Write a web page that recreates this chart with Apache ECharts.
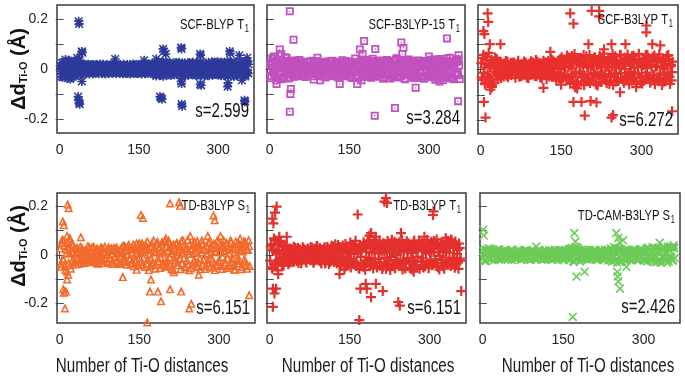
<!DOCTYPE html>
<html><head><meta charset="utf-8">
<script src="https://cdn.jsdelivr.net/npm/echarts@6/dist/echarts.min.js"></script>
<style>html,body{margin:0;padding:0;background:#fff}#c{width:685px;height:381px}</style>
</head><body><div id="c"></div>
<script>
// Ti-O distance index: first band array holds odd indices (1 + 2i), second band array even indices (2 + 2i)
const xTicks = [0, 75, 150, 225, 300];
const xTickLabels = [0, 150, 300];
const yTicks = [-0.2, -0.1, 0, 0.1, 0.2];
const yTickLabels = [-0.2, 0, 0.2];

const titles = ['SCF-BLYP T|1', 'SCF-B3LYP-15 T|1', 'SCF-B3LYP T|1', 'TD-B3LYP S|1', 'TD-B3LYP T|1', 'TD-CAM-B3LYP S|1'];
const sValues = ['s=2.599', 's=3.284', 's=6.272', 's=6.151', 's=6.151', 's=2.426'];
const xTitle = 'Number of Ti-O distances';

// --- SCF-BLYP T1 ---
const bandBLYP = [
.012,-.031,.004,.027,-.015,.038,-.006,-.024,.019,.033,
-.035,.008,-.018,.026,.001,-.029,.014,.036,-.011,.022,
-.004,.017,-.021,.009,.013,-.016,-.002,.019,-.012,.006,
.015,-.019,.003,-.008,.018,.011,-.014,-.005,.02,-.017,
.007,.014,-.01,-.02,.016,.002,-.013,.009,.018,-.006,
-.016,.012,.005,-.019,.015,-.009,.001,.017,-.014,.008,
.019,-.003,-.018,.011,.006,-.012,.016,-.015,.004,.02,
-.008,.013,-.017,.002,.018,-.011,.009,-.02,.014,-.004,
.016,.007,-.015,.019,-.009,.003,-.018,.012,.017,-.013,
.024,-.028,.006,.03,-.012,.019,-.025,.002,.027,-.02,
.011,-.016,.023,-.007,.018,-.026,.009,.021,-.014,-.003,
.025,-.019,.013,-.024,.004,.02,-.011,.017,-.027,.008,
-.015,.026,.001,-.021,.016,-.008,.023,-.018,.011,.005,
-.025,.019,-.004,.028,-.016,.009,-.022,.014,.024,-.011,
.003,-.027,.018,-.013,.025,.007,-.02,.016,-.006,.029,
-.023,.012,-.017,.027,.004,-.026,.021,-.01,.015,-.029,
.026,-.008,.019,-.024,.011,.03,-.016,.002,-.028,.022,
-.013,.027,.006,-.021,.017,-.03,.013,.025,-.018];
const bandBLYP2 = [
-.009,.024,-.033,.015,.029,-.02,.006,-.037,.021,-.013,
.031,-.004,.017,-.027,.01,.025,-.016,-.001,.034,-.022,
.008,-.014,.02,-.006,-.018,.012,.003,-.02,.016,-.011,
-.003,.018,-.015,.01,-.007,.014,-.019,.005,.012,-.013,
.019,-.004,-.016,.008,.013,-.018,.011,-.002,-.012,.017,
.004,-.014,.019,-.007,-.011,.016,-.017,.01,.002,-.019,
.013,-.009,.006,.018,-.016,.003,-.02,.014,-.006,.011,
.017,-.014,.001,-.018,.012,.007,-.013,.019,-.002,.015,
-.019,.009,.014,-.006,.02,-.017,.005,-.011,.018,.001,
-.022,.015,-.009,.026,-.018,.004,.022,-.029,.013,-.006,
.028,-.012,.002,-.023,.016,.009,-.019,.025,-.008,.014,
-.021,.006,.027,-.015,.011,-.028,.019,-.003,.023,-.017,
.009,-.024,.018,.003,-.019,.027,-.012,.015,-.026,.021,
.012,-.009,.026,-.02,.006,.022,-.029,.017,-.005,-.018,
.024,-.014,.01,.029,-.024,.015,-.003,-.022,.027,-.011,
.018,.006,-.027,.013,.023,-.015,.008,-.021,.03,.001,
-.019,.024,-.011,.016,-.03,.02,.007,-.025,.014,-.006,
.029,-.017,.022,-.009,.012,-.026,.028,-.014,.019];
const outBLYP = [[36,.19],[37,.18],[35,-.11],[36,-.125],[37,-.135],[38,-.14],[42,.07],[43,.065],[42,-.05],[20,-.04],[33,.045],[105,.04],[160,.035],[183,.04],[190,-.11],[192,-.115],[194,-.12],[196,.08],[197,.07],[201,.06],[230,.085],[231,.08],[230,-.05],[231,-.058],[231,-.14],[232,-.148],[266,.06],[267,.055],[266,-.06],[268,-.065],[318,-.07],[319,-.055],[322,.07],[323,.062],[340,.055],[350,-.125],[351,-.13],[345,-.045],[355,.045]];

// --- SCF-B3LYP-15 T1 ---
const bandB3LYP15 = [
.018,-.036,.043,.005,-.027,.031,-.045,.012,.038,-.019,
-.041,.024,.002,-.033,.047,-.011,.029,-.038,.015,-.004,
.026,-.022,.009,.034,-.017,-.029,.013,.021,-.008,.031,
-.025,.006,.019,-.032,.011,-.014,.027,-.003,-.021,.016,
.033,-.042,.004,.023,-.018,.012,-.028,.02,.001,-.024,
.029,-.011,-.034,.017,.008,-.02,.031,-.015,.022,-.006,
-.027,.014,.003,-.031,.025,-.012,.019,-.023,.035,-.009,
.01,-.029,.024,.005,-.018,.03,-.033,.013,-.002,.021,
.042,-.026,.011,-.037,.028,.004,-.045,.034,-.016,.023,
-.031,.009,.026,-.019,.014,-.035,.002,.032,-.024,.017,
-.008,.029,-.027,.012,.022,-.014,-.033,.019,.006,-.021,
.036,-.004,.027,-.038,.015,.009,-.025,.031,-.012,.043,
-.034,.018,.001,-.029,.037,-.016,.024,-.041,.011,.028,
-.022,.007,.033,-.018,.013,-.036,.026,.004,-.027,.019,
.034,-.011,-.03,.022,.009,-.039,.029,-.015,.017,-.005,
.031,-.026,.014,-.033,.038,.002,-.021,.027,-.037,.012,
.04,-.018,.025,-.044,.006,.033,-.028,.019,-.012,.045,
-.035,.021,.009,-.041,.03,-.016,.037,-.024,.014];
const bandB3LYP15_2 = [
-.028,.013,-.006,.041,-.022,.009,.035,-.031,.004,.026,
.017,-.039,.032,.008,-.015,.044,-.026,.003,-.035,.021,
-.013,.029,-.031,.007,.022,-.009,-.024,.036,.012,-.018,
.023,-.028,.015,.001,-.012,.027,-.019,.031,-.006,.014,
-.029,.011,.025,-.015,.032,-.023,.006,-.011,.028,-.017,
.009,.024,-.021,.013,-.029,.017,.004,-.026,.033,-.013,
.021,-.018,.029,.006,-.034,.011,-.005,.027,-.015,.018,
-.024,.031,-.009,.019,-.027,.002,.023,-.036,.015,-.011,
.027,.003,-.032,.019,-.008,.038,-.021,.012,-.029,.036,
.016,-.024,.034,-.006,.021,-.029,.041,-.013,.008,-.031,
.025,-.017,.006,.034,-.025,.018,-.039,.011,.029,-.004,
-.018,.033,-.027,.021,.004,-.032,.016,-.021,.037,-.009,
.021,-.026,.035,.012,-.017,.029,-.038,.008,.019,-.013,
.038,-.023,-.009,.028,-.031,.016,.005,-.024,.033,-.035,
-.017,.025,.011,-.036,.019,.032,-.007,.023,-.028,.014,
-.021,.037,-.031,.009,.024,-.043,.016,-.008,.035,-.019,
-.026,.031,-.011,.022,-.035,.014,.042,-.02,.029,-.033,
.018,-.038,.026,.012,-.022,.039,-.014,.031,-.04];
const outB3LYP15 = [[38,.23],[45,.117],[38,-.17],[39,-.10],[40,-.08],[13,-.06],[19,.078],[22,.06],[8,.05],[95,-.045],[90,.045],[132,-.06],[170,.078],[178,.112],[175,.06],[165,-.06],[199,.08],[198,-.186],[236,-.155],[248,.106],[252,.085],[250,.06],[275,-.075],[334,.122],[355,-.128],[356,.055],[300,.05],[320,-.05]];

// --- SCF-B3LYP T1 ---
const bandB3LYP = [
.025,-.041,.058,.008,-.054,.037,-.019,.066,-.035,.012,
-.062,.029,-.008,.047,-.026,.018,-.039,.004,.031,-.015,
.022,-.028,.009,.034,-.012,-.031,.017,.002,-.022,.027,
-.006,.019,-.033,.013,.025,-.017,.004,-.027,.021,-.01,
.032,-.02,.007,.015,-.035,.024,-.003,-.016,.028,.011,
-.026,.038,-.012,.003,.021,-.031,.016,-.007,.035,-.022,
.009,-.038,.027,.014,-.018,.042,-.029,.005,.031,-.011,
-.044,.019,.036,-.024,.002,.048,-.034,.013,-.021,.027,
.055,-.039,.011,-.056,.033,.004,-.047,.061,-.016,.024,
-.051,.038,-.008,.045,-.03,.018,-.062,.029,.052,-.019,
-.037,.057,.006,-.043,.026,-.013,.048,-.058,.015,.034,
-.025,.041,-.049,.009,.063,-.032,.021,-.054,.037,-.004,
.046,-.028,.013,-.061,.031,.052,-.017,.024,-.045,.007,
.058,-.036,.019,-.052,.002,.043,-.027,.035,-.059,.015,
-.041,.027,.054,-.012,.038,-.048,.009,.062,-.031,.022,
-.055,.016,.044,-.026,.005,.057,-.038,.028,-.046,.011,
.049,-.021,-.058,.034,.013,-.042,.06,-.015,.027,-.051,
.036,.003,-.033,.053,-.024,.041,-.057,.018,-.01];
const bandB3LYP_2 = [
-.032,.046,-.012,-.058,.021,.049,-.028,.016,-.044,.038,
.019,-.052,.034,-.011,.042,-.022,.009,.027,-.034,.013,
-.017,.024,-.008,-.025,.031,.006,-.019,.026,-.011,.016,
.028,-.022,.009,-.014,.035,-.029,.018,.002,-.024,.021,
-.011,.027,-.032,.019,.003,-.021,.033,-.009,-.018,.024,
.014,-.027,.031,-.016,.007,.026,-.035,.012,-.004,.029,
-.021,.016,.034,-.028,.011,-.009,.037,-.023,.019,-.031,
.026,.007,-.036,.041,-.016,.022,-.028,.033,.009,-.043,
-.021,.047,-.034,.016,.053,-.027,.038,-.011,-.055,.031,
.044,-.016,.026,-.047,.012,.057,-.024,.035,-.041,.008,
.029,-.053,.041,.015,-.032,.046,-.021,.031,-.063,.019,
.054,-.011,-.036,.028,.049,-.018,-.044,.012,.034,-.057,
-.022,.039,.061,-.029,.007,-.048,.035,-.037,.021,.056,
-.014,.028,-.043,.046,.016,-.031,.059,-.021,.033,-.008,
.052,-.034,.006,.041,-.057,.024,-.019,.037,-.049,.014,
.033,-.045,.021,.058,-.012,-.032,.044,-.052,.017,.036,
-.026,.055,.011,-.038,.029,.045,-.023,.033,-.061,.008,
-.047,.022,.039,-.016,.057,-.029,.012,-.043,.031];
const outB3LYP = [[13,.222],[14,.188],[5,.152],[7,.14],[6,-.128],[9,-.19],[18,-.08],[21,-.07],[17,.1],[37,.1],[117,-.073],[167,.222],[173,.181],[173,-.128],[176,-.07],[180,-.075],[194,-.182],[188,-.128],[201,.1],[205,-.125],[207,.232],[221,.232],[221,.21],[216,-.13],[244,-.19],[247,-.18],[244,.1],[309,.174],[309,.147],[270,.1],[320,.1],[335,.095],[357,-.165],[130,.07],[150,-.06],[230,.08],[260,-.09],[290,-.07]];

// --- TD-B3LYP S1 ---
const bandTDS1 = [
.028,-.047,.065,-.018,.041,-.061,.009,.053,-.032,.072,
-.055,.016,.044,-.027,.003,-.038,.031,.012,-.021,.036,
-.009,.025,-.033,.018,.006,-.026,.038,-.014,.021,-.004,
.033,-.019,.011,-.029,.027,.002,-.035,.016,-.008,.031,
-.023,.014,.036,-.011,.004,-.031,.024,-.017,.029,.007,
-.028,.019,-.003,.034,-.021,.012,-.036,.026,.008,-.015,
.041,-.024,.017,-.039,.005,.033,-.012,.028,-.031,.045,
-.019,.011,.049,-.034,.023,-.006,.038,-.042,.014,.031,
-.048,.026,.057,-.018,.004,-.044,.035,-.029,.062,.012,
-.038,.046,-.013,.028,-.052,.019,.055,-.034,.007,-.047,
.039,-.022,.061,-.009,.031,-.056,.017,.044,-.028,.003,
.052,-.041,.024,-.015,.058,-.033,.011,.036,-.05,.027,
.064,-.038,.006,-.054,.029,.045,-.021,.015,-.043,.059,
-.027,.034,-.058,.012,.048,-.017,.025,-.046,.037,.004,
-.035,.056,-.011,.029,-.051,.042,.018,-.039,.061,-.024,
.013,-.045,.038,-.006,.063,-.029,.021,-.052,.034,.009,
-.042,.054,-.016,.027,-.059,.036,.005,-.033,.051,-.021,
.044,-.048,.016,.058,-.027,.031,-.055,.022,.039];
const bandTDS1_2 = [
-.036,.051,-.014,.062,-.043,.024,-.068,.035,.008,-.041,
.047,-.022,.013,.033,-.029,.007,.024,-.035,.016,-.011,
.029,-.016,.004,-.031,.022,.011,-.024,.034,-.019,.013,
-.027,.036,-.008,.019,-.033,.025,.009,-.021,.031,-.014,
.026,-.032,.014,.002,-.025,.034,-.011,.021,-.036,.017,
.031,-.007,-.027,.023,.011,-.033,.019,-.004,.037,-.026,
-.013,.035,-.028,.022,.044,-.016,-.037,.009,.026,-.045,
.036,-.023,.008,-.04,.032,.015,-.029,.041,-.011,.024,
.044,-.033,.021,-.061,.039,-.012,.051,-.038,.027,-.055,
.018,.056,-.024,.035,-.008,.047,-.041,.013,.059,-.026,
-.044,.021,.053,-.036,.009,.041,-.061,.026,-.018,.047,
-.03,.013,.038,-.057,.022,.063,-.012,-.046,.031,-.021,
.017,-.062,.047,.021,-.035,.009,.056,-.028,.038,-.048,
.044,-.014,.022,.061,-.039,.027,-.056,.008,-.029,.052,
.025,-.047,.034,-.018,.049,-.061,.013,.036,-.042,.055,
-.024,.031,-.056,.044,.016,-.037,.052,-.012,-.046,.028,
.061,-.029,.035,-.043,.012,.057,-.021,.046,-.034,.019,
-.057,.026,.041,-.015,.053,-.038,.024,.063,-.044];
const outTDS1 = [[15,.21],[17,.195],[6,.14],[8,.125],[8,-.155],[7,-.14],[10,-.22],[12,-.15],[14,-.1],[16,-.08],[14,.08],[40,.075],[119,-.09],[145,-.06],[150,.05],[155,.05],[153,.167],[157,.155],[165,-.278],[170,-.15],[172,-.1],[185,-.15],[191,-.19],[200,.07],[208,-.14],[215,-.07],[229,-.15],[208,.215],[225,.22],[227,.205],[244,-.22],[248,-.2],[246,.08],[279,.08],[290,.165],[292,.145],[303,.08],[306,.04],[357,-.165],[262,-.08],[330,-.06],[340,.07]];

// --- TD-B3LYP T1 ---
const bandTDT1 = [
-.024,.043,-.058,.017,.061,-.036,.005,-.064,.039,-.012,
.052,-.043,.021,-.006,.035,-.028,.013,-.039,.026,-.003,
.019,-.031,.034,-.014,.008,-.025,.028,-.009,.022,-.035,
.011,.027,-.018,.003,-.032,.024,-.011,.018,.033,-.021,
.006,-.028,.025,-.016,.037,.009,-.024,.014,-.036,.021,
-.005,.031,-.027,.012,.026,-.038,.017,.002,-.022,.035,
-.031,.044,.008,-.019,.028,-.041,.015,-.026,.039,-.007,
.024,-.047,.033,.011,-.029,.051,-.018,.026,-.039,.004,
.058,-.033,.017,-.055,.041,-.008,.029,-.049,.036,-.062,
.013,.047,-.024,.055,-.041,.009,-.031,.062,-.017,.038,
-.052,.024,.006,-.044,.033,-.059,.048,-.013,.021,-.036,
.057,-.027,.041,-.009,.063,-.046,.015,-.055,.029,.002,
-.039,.052,-.021,.034,-.061,.011,.044,-.032,.056,-.016,
.027,-.053,.008,.042,-.025,.059,-.043,.019,-.007,.037,
-.058,.031,.049,-.014,.024,-.047,.006,.061,-.036,.017,
-.028,.054,-.041,.012,.038,-.022,.064,-.051,.026,-.004,
.045,-.034,.018,-.057,.033,-.012,.052,-.038,.009,-.046,
.058,-.019,.029,-.053,.041,.003,-.031,.047,-.024];
const bandTDT1_2 = [
.035,-.052,.022,.068,-.041,.011,-.033,.049,-.021,.058,
-.027,.014,-.045,.032,-.009,.038,-.021,.011,-.032,.024,
-.012,.017,-.028,.029,-.005,.022,-.034,.013,.006,-.023,
.031,-.014,.021,-.029,.009,.026,-.004,-.022,.017,.029,
-.033,.012,-.021,.035,-.011,.019,.028,-.031,.006,-.017,
.024,-.036,.011,.033,-.014,.021,-.029,.038,-.009,.014,
.027,-.022,-.035,.041,-.012,.033,-.046,.019,.008,-.037,
.045,-.015,.026,-.038,.012,-.052,.031,.019,-.027,.043,
-.046,.027,.009,-.058,.037,.016,-.041,.052,-.024,.031,
-.034,.059,-.012,-.047,.026,.044,-.056,.018,-.029,.048,
.036,-.017,.059,-.031,.013,-.049,.027,.045,-.058,.009,
-.042,.024,-.063,.033,.011,-.038,.054,-.022,.047,-.031,
.016,-.045,.038,.061,-.027,.019,-.056,.034,-.012,.048,
-.036,.023,-.061,.015,.051,-.029,.033,-.048,.026,.059,
.043,-.025,.014,-.052,.036,.019,-.039,.027,-.055,.046,
.009,-.043,.032,.057,-.019,.041,-.034,.011,-.061,.036,
-.022,.051,-.047,.026,.015,-.039,.058,-.027,.033,.064,
-.041,.036,-.012,.055,-.034,.021,-.058,.028,-.015];
const outTDT1 = [[13,.2],[5,.15],[7,.13],[10,.175],[6,-.14],[12,-.14],[6,-.215],[9,-.16],[16,-.08],[18,.075],[32,.075],[131,-.08],[140,-.06],[165,.167],[168,-.27],[170,-.14],[182,-.14],[180,-.12],[190,-.175],[199,-.12],[199,.075],[212,-.15],[215,.22],[220,.215],[218,.235],[190,.09],[187,.08],[241,-.195],[244,-.21],[246,.09],[306,.165],[307,.18],[290,.075],[359,-.15],[330,.07],[270,-.07]];

// --- TD-CAM-B3LYP S1 ---
const bandCAM = [
.016,-.024,.009,.021,-.013,.027,-.004,-.019,.015,.002,
-.022,.011,.018,-.008,-.015,.023,.005,-.017,.012,-.003,
.019,-.011,.007,-.02,.014,.001,-.016,.021,-.006,.01,
-.018,.013,.003,-.012,.017,-.021,.008,.015,-.009,-.002,
.02,-.014,.011,-.019,.004,.016,-.007,.012,-.017,.009,
-.001,.018,-.013,.006,-.02,.014,.003,-.011,.019,-.016,
.008,-.005,.015,-.018,.012,.002,-.014,.021,-.009,.006,
-.019,.013,.004,-.012,.017,-.022,.01,.016,-.006,-.015,
.024,-.018,.011,.028,-.025,.006,-.021,.031,-.013,.019,
-.027,.009,.022,-.016,.003,-.012,.018,-.02,.014,.005,
-.017,.011,-.004,.02,-.013,.016,-.008,-.019,.012,.002,
.021,-.015,.007,-.022,.017,.004,-.011,.019,-.018,.026,
-.029,.014,.031,-.023,.008,-.032,.027,-.012,.021,-.026,
.005,.018,-.014,.011,-.02,.016,.001,-.017,.013,-.007,
.022,-.012,.009,-.021,.015,.004,-.018,.024,-.01,.013,
-.023,.019,.006,-.027,.029,-.015,.011,-.024,.032,-.009,
.025,-.031,.014,.028,-.02,.007,-.033,.026,-.017,.03,
-.025,.012,.034,-.028,.019,-.008,.031,-.022,.027];
const bandCAM_2 = [
-.013,.021,-.026,.006,.018,-.009,.024,-.016,.003,.019,
.012,-.017,.004,.022,-.02,-.006,.015,-.012,.009,.017,
-.008,.013,-.017,.011,-.004,.019,-.021,.008,.014,-.013,
.006,-.016,.02,-.005,.012,-.018,.01,-.014,.018,.004,
-.011,.016,-.005,.013,-.021,.009,.017,-.015,.002,-.019,
.014,-.008,.02,.011,-.014,.005,-.019,.016,-.007,.012,
-.017,.019,-.004,.009,-.021,.015,.006,-.013,.017,-.011,
.021,-.004,.013,-.019,.008,.014,-.016,.003,.019,-.012,
-.021,.026,-.008,.015,-.03,.022,.01,-.017,.027,-.011,
.016,-.021,.006,.013,-.018,.02,-.009,.004,-.016,.021,
.009,-.014,.017,-.006,.019,-.021,.012,.003,-.015,.016,
-.01,.013,-.018,.021,-.005,.011,-.023,.016,.008,-.019,
.022,-.011,-.024,.029,-.016,.019,.011,-.03,.024,.006,
-.018,.013,.021,-.009,.006,-.015,.019,-.023,.004,.017,
-.013,.02,-.016,.007,-.022,.018,.012,-.008,.021,-.017,
.009,-.021,.028,-.012,-.006,.023,-.019,.014,-.03,.021,
-.014,.024,-.028,.017,.005,-.022,.019,-.011,.035,-.02,
.016,-.033,.022,-.009,.029,-.015,-.024,.032,-.013];
const outCAM = [[1,.104],[2,.08],[171,.09],[173,.055],[172,.03],[175,-.09],[190,-.07],[168,-.257],[249,.09],[253,.07],[256,.05],[251,-.07],[252,-.09],[253,-.11],[256,-.14],[268,-.05],[330,.05],[356,.04],[100,.035],[262,.06]];

// ---------- presentation ----------
const FONT = "'Liberation Sans',Arial,sans-serif";
const NARROW = 0.75;
const STAR = 'path://M41 0H59V100H41Z M0 41H100V59H0Z M2 14L14 2L98 86L86 98Z M86 2L98 14L14 98L2 86Z';
const PLUS = 'path://M39 0H61V39H100V61H61V100H39V61H0V39H39Z';
const CROSS = 'path://M2 14L14 2L98 86L86 98Z M86 2L98 14L14 98L2 86Z';
const SQUARE = 'path://M0 0H100V100H0Z M22 22V78H78V22Z M42 42H58V58H42Z';
const TRI = 'path://M50 0L100 100L0 100Z M50 42L27 84L73 84Z';

const panels = [
  {g:{left:57,top:5,width:197,height:128}, band:[bandBLYP, bandBLYP2], out:outBLYP, color:'#2D3A9B', sym:STAR, size:9, y:[-0.255,0.255], ylab:true, tY:25, sY:111},
  {g:{left:267,top:5,width:198,height:128}, band:[bandB3LYP15, bandB3LYP15_2], out:outB3LYP15, color:'#C051BE', sym:SQUARE, size:8, y:[-0.255,0.255], ylab:false, tY:25, sY:118},
  {g:{left:478,top:5,width:200,height:129}, band:[bandB3LYP, bandB3LYP_2], out:outB3LYP, color:'#E8302C', sym:PLUS, size:10, y:[-0.255,0.255], ylab:false, tY:20, sY:120},
  {g:{left:57,top:193,width:198,height:130}, band:[bandTDS1, bandTDS1_2], out:outTDS1, color:'#F26A2C', sym:TRI, size:9, y:[-0.282,0.256], ylab:true, tY:206, sY:308, xc:142},
  {g:{left:267,top:193,width:199,height:130}, band:[bandTDT1, bandTDT1_2], out:outTDT1, color:'#E3302C', sym:PLUS, size:10, y:[-0.282,0.256], ylab:false, tY:206, sY:308, xc:368},
  {g:{left:480,top:193,width:200,height:130}, band:[bandCAM, bandCAM_2], out:outCAM, color:'#6CCB58', sym:CROSS, size:9, y:[-0.282,0.256], ylab:false, tY:216, sY:307, xc:588}
];

const grid = [], xAxis = [], yAxis = [], series = [], graphic = [];
panels.forEach((p, k) => {
  grid.push(Object.assign({show:true, borderColor:'#3a3a3a', borderWidth:1.5, backgroundColor:'#fff'}, p.g));
  const tick = {show:true, inside:true, length:4, lineStyle:{color:'#444', width:1}};
  xAxis.push({type:'value', gridIndex:k, min:-5, max:368, splitLine:{show:false}, axisLine:{show:false},
    axisTick:Object.assign({customValues:xTicks}, tick),
    axisLabel:{customValues:xTickLabels, fontFamily:FONT, fontSize:14, color:'#222', margin:10}});
  xAxis.push({type:'value', gridIndex:k, position:'top', min:-5, max:368, splitLine:{show:false}, axisLine:{show:false},
    axisTick:Object.assign({customValues:xTicks}, tick), axisLabel:{show:false}});
  yAxis.push({type:'value', gridIndex:k, min:p.y[0], max:p.y[1], splitLine:{show:false}, axisLine:{show:false},
    axisTick:Object.assign({customValues:yTicks}, tick),
    axisLabel:{show:p.ylab, customValues:yTickLabels, fontFamily:FONT, fontSize:14, color:'#222', margin:9,
      formatter: v => (Math.abs(v) < 1e-9 ? '0' : String(Math.round(v*10)/10))}});
  yAxis.push({type:'value', gridIndex:k, position:'right', min:p.y[0], max:p.y[1], splitLine:{show:false}, axisLine:{show:false},
    axisTick:Object.assign({customValues:yTicks}, tick), axisLabel:{show:false}});
  const data = p.band[0].map((v, i) => [1 + 2 * i, v])
    .concat(p.band[1].map((v, i) => [2 + 2 * i, v]))
    .concat(p.out);
  series.push({type:'scatter', xAxisIndex:2*k, yAxisIndex:2*k, data, symbol:p.sym, symbolSize:p.size,
    itemStyle:{color:p.color, opacity:1}, silent:true, animation:false, clip:true});
  const [main, sub] = titles[k].split('|');
  const rx = p.g.left + p.g.width - 5;
  graphic.push({type:'text', x:rx, y:p.tY, z:100, scaleX:NARROW, style:{text:'{a|' + main + '}{b|' + sub + '}', align:'right', verticalAlign:'middle',
    rich:{a:{fontFamily:FONT, fontSize:15, fill:'#111', lineHeight:18}, b:{fontFamily:FONT, fontSize:10, fill:'#111', padding:[9,0,0,1], lineHeight:9}}}});
  graphic.push({type:'text', x:rx, y:p.sY, z:100, scaleX:NARROW, style:{text:sValues[k], align:'right', verticalAlign:'middle',
    fontFamily:FONT, fontSize:20, fill:'#111'}});
  if (p.xc) {
    graphic.push({type:'text', x:p.xc, y:366, z:100, scaleX:0.76, style:{text:xTitle, align:'center', verticalAlign:'middle',
      fontFamily:FONT, fontSize:20, fill:'#1a1a1a'}});
  }
});
[69, 246].forEach(cy => {
  graphic.push({type:'text', x:19, y:cy, rotation:Math.PI/2, z:100, style:{text:'{d|Δd}{s|Ti-O}{d| (Å)}', align:'center', verticalAlign:'middle',
    rich:{d:{fontFamily:FONT, fontWeight:'bold', fontSize:20, fill:'#111', lineHeight:24},
          s:{fontFamily:FONT, fontWeight:'bold', fontSize:11, fill:'#111', padding:[10,0,0,0], lineHeight:12}}}});
});

const chart = echarts.init(document.getElementById('c'), null, {renderer:'canvas'});
chart.setOption({animation:false, backgroundColor:'#fff', grid, xAxis, yAxis, series, graphic});
</script></body></html>
